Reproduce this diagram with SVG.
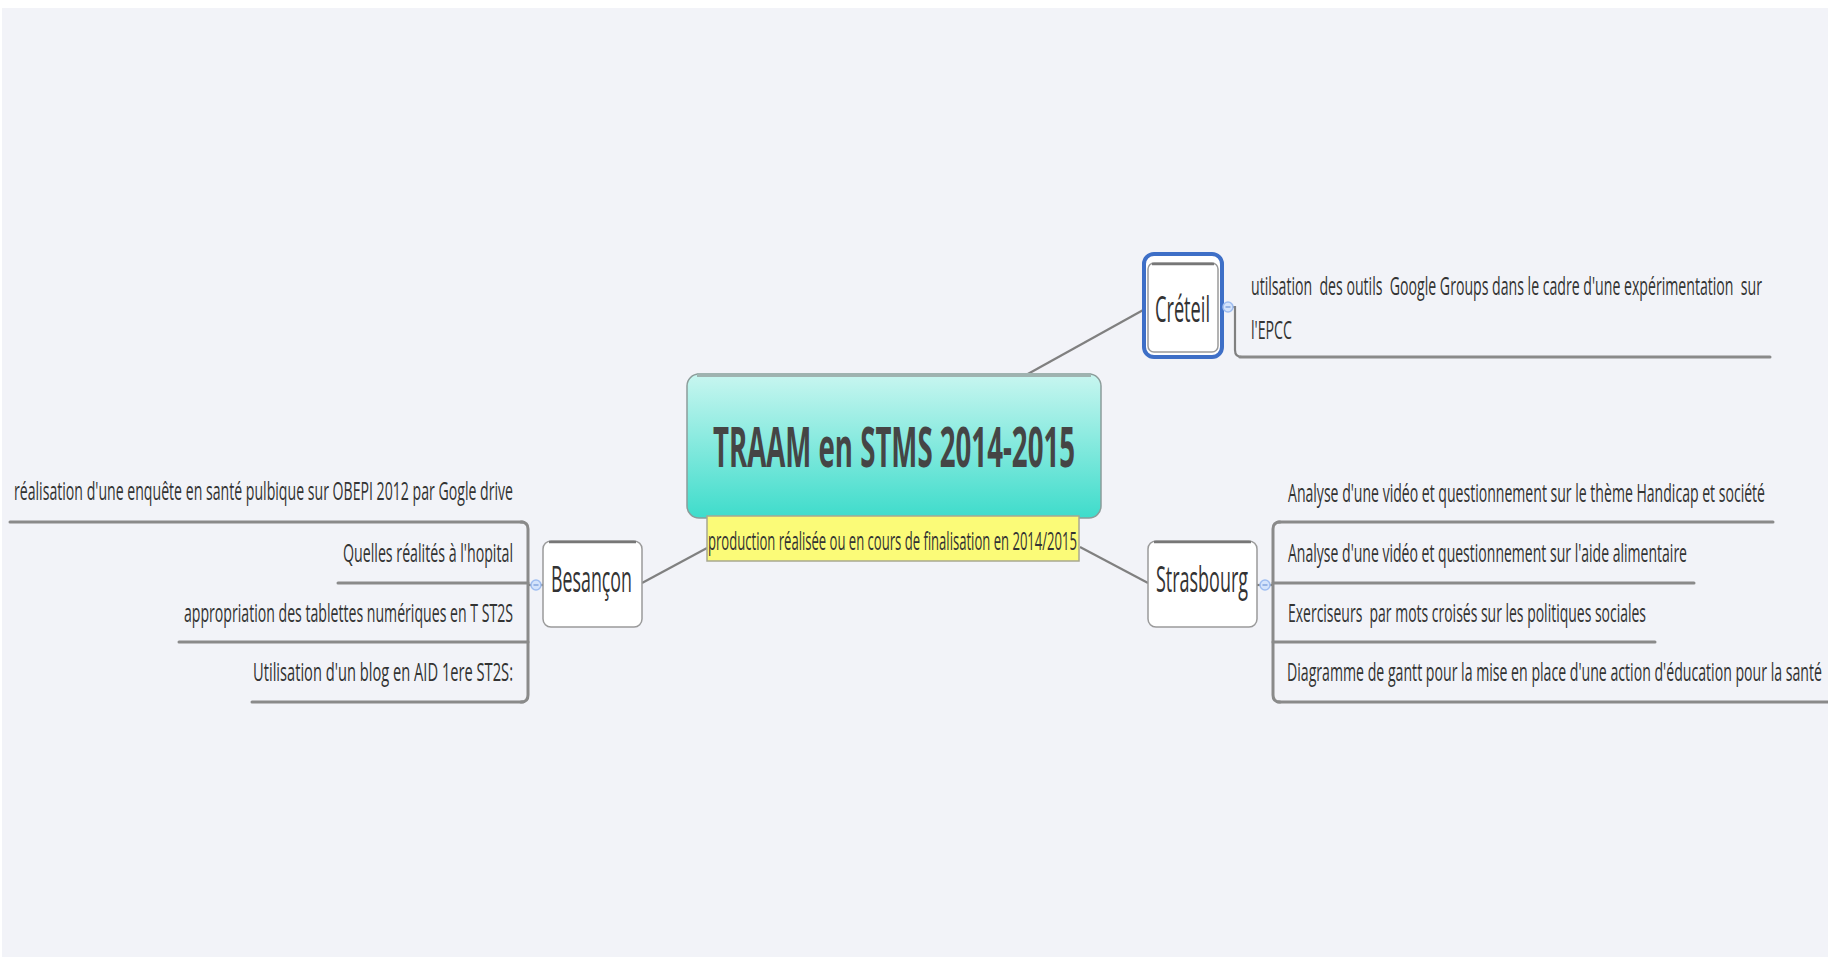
<svg xmlns="http://www.w3.org/2000/svg" width="1828" height="957" viewBox="0 0 1828 957">
<defs>
<linearGradient id="gC" x1="0" y1="0" x2="0" y2="1">
<stop offset="0" stop-color="#c8f6f0"/>
<stop offset="1" stop-color="#3edccb"/>
</linearGradient>
<style>
.t{font-family:"Open Sans","Liberation Sans",sans-serif;fill:#333;white-space:pre}
.child{font-size:26px}
.node{font-size:36px}
.ul{stroke:#8a8a8a;stroke-width:3;fill:none;stroke-linecap:round}
.con{stroke:#808080;stroke-width:2.2;fill:none}
.box{fill:#fff;stroke:#9a9a9a;stroke-width:1.5}
.boxtop{stroke:#777;stroke-width:2.5;fill:none}
.col{fill:#d4e3fb;stroke:#9fbdf0;stroke-width:1.5}
.colm{stroke:#6f95d8;stroke-width:1.2}
</style>
</defs>
<rect x="0" y="0" width="1828" height="957" fill="#ffffff"/>
<rect x="2" y="8" width="1826" height="949" fill="#f2f3f8"/>

<g id="connectors">
<line class="con" x1="1026" y1="375" x2="1145" y2="309"/>
<line class="con" x1="1080" y1="547" x2="1148" y2="583"/>
<line class="con" x1="707" y1="548" x2="642" y2="583"/>
<path class="con" d="M1223 307 H1235 V350 Q1235 357 1242 357"/>
<line class="ul" x1="1240" y1="357" x2="1770" y2="357"/>
<path class="con" d="M1257 585 H1273"/>
<path class="ul" d="M1280 522 Q1273 522 1273 529 V695 Q1273 702 1280 702"/>
<line class="ul" x1="1278" y1="522" x2="1773" y2="522"/>
<line class="ul" x1="1273" y1="583" x2="1694" y2="583"/>
<line class="ul" x1="1273" y1="642" x2="1655" y2="642"/>
<line class="ul" x1="1278" y1="702" x2="1828" y2="702"/>
<path class="con" d="M543 585 H528"/>
<path class="ul" d="M521 522 Q528 522 528 529 V695 Q528 702 521 702"/>
<line class="ul" x1="10" y1="522" x2="523" y2="522"/>
<line class="ul" x1="338" y1="583" x2="528" y2="583"/>
<line class="ul" x1="179" y1="642" x2="528" y2="642"/>
<line class="ul" x1="252" y1="702" x2="523" y2="702"/>
</g>

<g id="central">
<rect x="687" y="374" width="414" height="144" rx="12" fill="url(#gC)" stroke="#8c9c9a" stroke-width="1.5"/>
<path d="M697 375 H1091" stroke="#9fb3b0" stroke-width="4"/>
<text class="t" transform="matrix(0.5,0,0,1,713,467)" x="0" y="0" font-size="56" font-weight="bold" textLength="724" lengthAdjust="spacingAndGlyphs" style="fill:#454545">TRAAM en STMS 2014-2015</text>
</g>

<g id="central-label">
<rect x="707" y="516" width="372" height="45" fill="#fbfb78" stroke="#a8a890" stroke-width="1.5"/>
<text class="t" transform="matrix(0.5,0,0,1,708,550)" x="0" y="0" font-size="25" textLength="738" lengthAdjust="spacingAndGlyphs">production réalisée ou en cours de finalisation en 2014/2015</text>
</g>

<g id="creteil">
<rect x="1144" y="254" width="78" height="103" rx="10" fill="#ffffff" stroke="#3e6fc7" stroke-width="4"/>
<rect x="1148" y="263" width="70" height="89" rx="6" class="box"/>
<path class="boxtop" d="M1152 264 H1214"/>
<text class="t node" transform="matrix(0.5,0,0,1,1155,322)" x="0" y="0" textLength="110" lengthAdjust="spacingAndGlyphs">Créteil</text>
<circle class="col" cx="1228" cy="307" r="5"/>
<line class="colm" x1="1225.5" y1="307" x2="1230.5" y2="307"/>
</g>

<g id="creteil-child">
<text class="t child" transform="matrix(0.5,0,0,1,1251,295)" x="0" y="0" textLength="1022" lengthAdjust="spacingAndGlyphs">utilsation  des outils  Google Groups dans le cadre d'une expérimentation  sur</text>
<text class="t child" transform="matrix(0.5,0,0,1,1251,339)" x="0" y="0" textLength="82" lengthAdjust="spacingAndGlyphs">l'EPCC</text>
</g>

<g id="strasbourg">
<rect x="1148" y="541" width="109" height="86" rx="8" class="box"/>
<path class="boxtop" d="M1154 542 H1251"/>
<text class="t node" transform="matrix(0.5,0,0,1,1156,592)" x="0" y="0" textLength="184" lengthAdjust="spacingAndGlyphs">Strasbourg</text>
<circle class="col" cx="1265" cy="585" r="5"/>
<line class="colm" x1="1262.5" y1="585" x2="1267.5" y2="585"/>
</g>

<g id="strasbourg-children">
<text class="t child" transform="matrix(0.5,0,0,1,1288,502)" x="0" y="0" textLength="954" lengthAdjust="spacingAndGlyphs">Analyse d'une vidéo et questionnement sur le thème Handicap et société</text>
<text class="t child" transform="matrix(0.5,0,0,1,1288,562)" x="0" y="0" textLength="798" lengthAdjust="spacingAndGlyphs">Analyse d'une vidéo et questionnement sur l'aide alimentaire</text>
<text class="t child" transform="matrix(0.5,0,0,1,1288,622)" x="0" y="0" textLength="716" lengthAdjust="spacingAndGlyphs">Exerciseurs  par mots croisés sur les politiques sociales</text>
<text class="t child" transform="matrix(0.5,0,0,1,1287,681)" x="0" y="0" textLength="1070" lengthAdjust="spacingAndGlyphs">Diagramme de gantt pour la mise en place d'une action d'éducation pour la santé</text>
</g>

<g id="besancon">
<rect x="543" y="541" width="99" height="86" rx="8" class="box"/>
<path class="boxtop" d="M549 542 H636"/>
<text class="t node" transform="matrix(0.5,0,0,1,551,592)" x="0" y="0" textLength="162" lengthAdjust="spacingAndGlyphs">Besançon</text>
<circle class="col" cx="536" cy="585" r="5"/>
<line class="colm" x1="533.5" y1="585" x2="538.5" y2="585"/>
</g>

<g id="besancon-children">
<text class="t child" transform="matrix(0.5,0,0,1,14,500)" x="0" y="0" textLength="998" lengthAdjust="spacingAndGlyphs">réalisation d'une enquête en santé pulbique sur OBEPI 2012 par Gogle drive</text>
<text class="t child" transform="matrix(0.5,0,0,1,343,562)" x="0" y="0" textLength="340" lengthAdjust="spacingAndGlyphs">Quelles réalités à l'hopital</text>
<text class="t child" transform="matrix(0.5,0,0,1,184,622)" x="0" y="0" textLength="658" lengthAdjust="spacingAndGlyphs">appropriation des tablettes numériques en T ST2S</text>
<text class="t child" transform="matrix(0.5,0,0,1,253,681)" x="0" y="0" textLength="520" lengthAdjust="spacingAndGlyphs">Utilisation d'un blog en AID 1ere ST2S:</text>
</g>
</svg>
